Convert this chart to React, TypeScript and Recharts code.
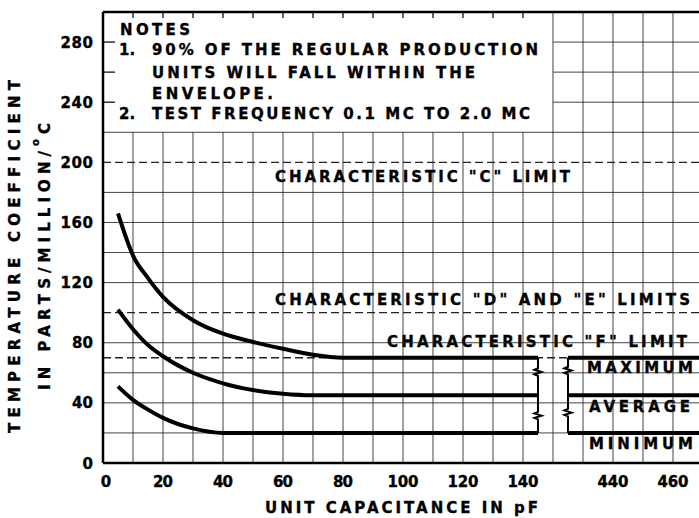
import React from "react";
import { Customized, LineChart, Line, ReferenceLine, XAxis, YAxis } from "recharts";

// x axis is broken between 150 and 420 pF: plot units u = pF below the break, pF - 270 above it
const BREAK_AT = 150;
const BREAK_SHIFT = 270;
const toU = (pf: number) => (pf <= BREAK_AT ? pf : pf - BREAK_SHIFT);
const toPF = (u: number) => (u <= BREAK_AT ? u : u + BREAK_SHIFT);

const xTickLabels = [0, 20, 40, 60, 80, 100, 120, 140, 440, 460];
const yTickLabels = [0, 40, 80, 120, 160, 200, 240, 280];

const maxCap = [5, 10, 15, 20, 30, 40, 50, 60, 70, 80, 145];
const maxTc = [166, 138, 123, 110.5, 95, 86, 80.5, 76, 72, 70, 70];
const avgCap = [5, 10, 15, 20, 30, 40, 50, 60, 70, 145];
const avgTc = [102, 89, 78.5, 71, 60, 53, 48.5, 46, 45, 45];
const minCap = [5, 10, 15, 20, 30, 40, 145];
const minTc = [51, 42, 35.5, 30, 23, 20, 20];

const rightCap = [425, 470];
const maxRightTc = [70, 70];
const avgRightTc = [45, 45];
const minRightTc = [20, 20];

// vertical break markers with their little zigzags
const breakLeftCap = [145, 145, 143.8, 146.2, 143.8, 145, 145, 143.8, 146.2, 143.8, 145, 145];
const breakLeftTc = [70, 63, 62, 60.5, 59, 58, 34, 33, 31.5, 30, 29, 20];
const breakRightCap = [425, 425, 423.8, 426.2, 423.8, 425, 425, 423.8, 426.2, 423.8, 425, 425];
const breakRightTc = [70, 64, 63, 61.5, 60, 59, 36, 35, 33.5, 32, 31, 20];

// limits
const limitC = 200;
const limitDE = 100;
const limitF = 70;

// grid
const gridYFull = [20, 40, 60, 80, 120, 140, 160, 180, 220];
const gridYUpper = [240, 260, 280];
const gridXLower = [10, 20, 30, 40, 50, 60, 70, 80, 90, 100, 110, 120, 130, 140];
const gridXFull = [150, 430, 440, 450, 460];

const U_MAX = 198.67;
const Y_MAX = 300;
const FONT = "DejaVu Sans";

const zip = (cap: number[], tc: number[]) => cap.map((c, i) => ({ u: toU(c), v: tc[i] }));

const lineProps = {
  dataKey: "v",
  stroke: "#000",
  dot: false,
  activeDot: false,
  isAnimationActive: false,
} as const;

const textProps = {
  fontFamily: FONT,
  fontWeight: "bold",
  fontSize: 15,
  fill: "#000",
  stroke: "#000",
  strokeWidth: 0.35,
  lengthAdjust: "spacing",
} as const;

const XTick = (props: any) => {
  const { x, y, payload } = props;
  const label = String(toPF(payload.value));
  return (
    <text
      {...textProps}
      x={x + (payload.value === 0 ? 3 : 0)}
      y={y + 24}
      textAnchor="middle"
      textLength={label.length > 1 ? label.length * 11 - 2 : undefined}
    >
      {label}
    </text>
  );
};

const YTick = (props: any) => {
  const { x, y, payload } = props;
  const label = String(payload.value);
  return (
    <text
      {...textProps}
      x={x - 10}
      y={y + 5.5}
      textAnchor="end"
      textLength={label.length > 1 ? label.length * 11.5 - 2 : undefined}
    >
      {label}
    </text>
  );
};

const Notes = () => (
  <g>
    <text {...textProps} x={120} y={35} textLength={70}>NOTES</text>
    <text {...textProps} x={119} y={55}>1.</text>
    <text {...textProps} x={152} y={55} textLength={386}>90% OF THE REGULAR PRODUCTION</text>
    <text {...textProps} x={152} y={78} textLength={323}>UNITS WILL FALL WITHIN THE</text>
    <text {...textProps} x={152} y={99} textLength={121}>ENVELOPE.</text>
    <text {...textProps} x={119} y={119}>2.</text>
    <text {...textProps} x={152} y={119} textLength={378}>TEST FREQUENCY 0.1 MC TO 2.0 MC</text>

    <text {...textProps} x={275} y={182} textLength={295}>CHARACTERISTIC "C" LIMIT</text>
    <text {...textProps} x={275} y={305} textLength={415}>CHARACTERISTIC "D" AND "E" LIMITS</text>
    <text {...textProps} x={387} y={347} textLength={300}>CHARACTERISTIC "F" LIMIT</text>
    <text {...textProps} x={587} y={373} textLength={106}>MAXIMUM</text>
    <text {...textProps} x={589} y={412} textLength={101}>AVERAGE</text>
    <text {...textProps} x={589} y={449} textLength={104}>MINIMUM</text>

    <text {...textProps} x={265} y={513} textLength={273}>UNIT CAPACITANCE IN pF</text>

    <text {...textProps} transform="translate(20, 256.5) rotate(-90)" textAnchor="middle" textLength={353}>
      TEMPERATURE COEFFICIENT
    </text>
    <text {...textProps} transform="translate(50, 256.5) rotate(-90)" textAnchor="middle" textLength={267}>
      IN PARTS/MILLION/<tspan fontSize={10} dy={-11}>o</tspan><tspan dy={11}>C</tspan>
    </text>
  </g>
);

const gridStroke = { stroke: "#222", strokeWidth: 0.85, ifOverflow: "visible" as const };
const limitStroke = { stroke: "#222", strokeWidth: 1.3, strokeDasharray: "8 4", ifOverflow: "visible" as const };

export default function App() {
  return (
    <div style={{ position: "absolute", left: 0, top: 0, width: 699, height: 518, background: "#fff" }}>
      <LineChart width={699} height={518} margin={{ top: 12, right: 0, left: 0, bottom: 0 }}>
        <XAxis
          type="number"
          dataKey="u"
          domain={[0, U_MAX]}
          allowDataOverflow
          ticks={xTickLabels.map(toU)}
          interval={0}
          height={55}
          tickSize={0}
          tickMargin={0}
          tickLine={false}
          axisLine={{ stroke: "#000", strokeWidth: 2.5 }}
          tick={<XTick />}
        />
        <YAxis
          type="number"
          domain={[0, Y_MAX]}
          allowDataOverflow
          ticks={yTickLabels}
          interval={0}
          width={103}
          tickSize={0}
          tickMargin={0}
          tickLine={false}
          axisLine={{ stroke: "#000", strokeWidth: 2.5 }}
          tick={<YTick />}
        />

        {gridYFull.map((v) => (
          <ReferenceLine key={`gy${v}`} segment={[{ x: 0, y: v }, { x: U_MAX, y: v }]} {...gridStroke} />
        ))}
        {gridYUpper.map((v) => (
          <ReferenceLine key={`gyu${v}`} segment={[{ x: BREAK_AT, y: v }, { x: U_MAX, y: v }]} {...gridStroke} />
        ))}
        {gridYUpper.map((v) => (
          <ReferenceLine key={`ty${v}`} segment={[{ x: 0, y: v }, { x: 4, y: v }]} {...gridStroke} strokeWidth={1.4} />
        ))}
        {gridXLower.map((c) => (
          <ReferenceLine key={`gx${c}`} segment={[{ x: toU(c), y: 0 }, { x: toU(c), y: 220 }]} {...gridStroke} />
        ))}
        {gridXLower.map((c) => (
          <ReferenceLine key={`tx${c}`} segment={[{ x: toU(c), y: 296 }, { x: toU(c), y: Y_MAX }]} {...gridStroke} strokeWidth={1.4} />
        ))}
        {gridXFull.map((c) => (
          <ReferenceLine key={`gxf${c}`} segment={[{ x: toU(c), y: 0 }, { x: toU(c), y: Y_MAX }]} {...gridStroke} />
        ))}

        <ReferenceLine segment={[{ x: 0, y: Y_MAX }, { x: U_MAX, y: Y_MAX }]} stroke="#000" strokeWidth={2.5} ifOverflow="visible" />

        <ReferenceLine segment={[{ x: 0, y: limitC }, { x: U_MAX, y: limitC }]} {...limitStroke} />
        <ReferenceLine segment={[{ x: 0, y: limitDE }, { x: U_MAX, y: limitDE }]} {...limitStroke} />
        <ReferenceLine segment={[{ x: 0, y: limitF }, { x: U_MAX, y: limitF }]} {...limitStroke} />

        <Line {...lineProps} data={zip(maxCap, maxTc)} type="monotone" strokeWidth={4} />
        <Line {...lineProps} data={zip(avgCap, avgTc)} type="monotone" strokeWidth={4} />
        <Line {...lineProps} data={zip(minCap, minTc)} type="monotone" strokeWidth={4} />
        <Line {...lineProps} data={zip(rightCap, maxRightTc)} type="linear" strokeWidth={4} />
        <Line {...lineProps} data={zip(rightCap, avgRightTc)} type="linear" strokeWidth={4} />
        <Line {...lineProps} data={zip(rightCap, minRightTc)} type="linear" strokeWidth={4} />
        <Line {...lineProps} data={zip(breakLeftCap, breakLeftTc)} type="linear" strokeWidth={2} />
        <Line {...lineProps} data={zip(breakRightCap, breakRightTc)} type="linear" strokeWidth={2} />

        <Customized component={Notes} />
      </LineChart>
    </div>
  );
}
